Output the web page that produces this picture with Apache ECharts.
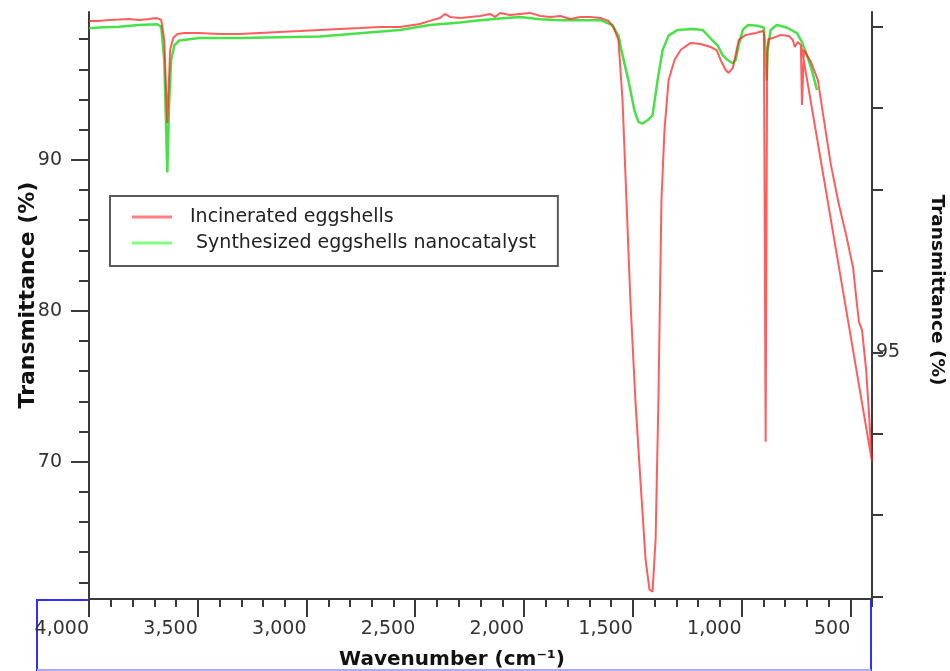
<!DOCTYPE html>
<html><head><meta charset="utf-8">
<script src="https://cdn.jsdelivr.net/npm/echarts@6/dist/echarts.min.js"></script>
<style>html,body{margin:0;padding:0;background:#fff}#c{width:950px;height:671px}</style>
</head><body><div id="c"></div>
<script>
// ---- data ----
const seriesNames = ['Incinerated eggshells', ' Synthesized eggshells nanocatalyst'];

const redWn = [4000,3954,3908,3862,3816,3770,3723,3687,3668,3654,3640,3627,3613,3594,3562,3493,3401,3309,3216,3124,3032,2940,2848,2755,2663,2571,2479,2433,2387,2363,2340,2294,2248,2202,2156,2133,2110,2064,2018,1972,1925,1879,1833,1787,1741,1695,1649,1612,1589,1566,1547,1529,1511,1488,1465,1441,1423,1409,1395,1382,1368,1354,1335,1308,1280,1234,1188,1142,1114,1096,1073,1059,1040,1027,1013,980,934,902,897,889,882,876,856,819,782,764,755,741,727,722,713,681,649,621,589,552,519,487,469,460,446,427,415,400,725];
const redT = [99.21,99.21,99.27,99.30,99.34,99.27,99.34,99.40,99.27,97.95,92.45,97.28,98.08,98.34,98.41,98.41,98.34,98.34,98.41,98.48,98.54,98.61,98.68,98.74,98.81,98.81,99.01,99.21,99.40,99.67,99.47,99.40,99.47,99.54,99.67,99.47,99.74,99.60,99.67,99.74,99.54,99.47,99.54,99.34,99.47,99.47,99.40,99.21,98.81,97.95,93.97,87.35,80.73,74.11,68.81,63.51,61.52,61.39,64.83,74.11,87.35,92.00,95.30,96.62,97.28,97.75,97.68,97.48,97.28,96.62,95.96,95.76,96.09,96.95,97.95,98.28,98.41,98.54,98.40,71.32,97.00,98.00,98.08,98.28,98.21,97.95,97.48,97.81,97.62,93.64,97.28,96.49,95.30,92.65,89.67,87.02,85.03,82.85,80.40,79.27,78.74,76.09,73.44,70.00,97.55];

const greenWn = [4000,3954,3862,3770,3687,3668,3654,3640,3631,3622,3608,3585,3493,3309,3124,2940,2755,2571,2433,2294,2202,2110,2018,1925,1833,1741,1649,1594,1566,1547,1520,1492,1474,1456,1432,1409,1386,1363,1335,1294,1225,1179,1133,1110,1087,1064,1040,1027,1013,994,971,925,898,889,884,880,866,838,792,745,722,699,676,653];
const greenT = [98.98,98.99,99.00,99.02,99.03,99.00,98.59,97.21,98.10,98.59,98.77,98.83,98.86,98.86,98.87,98.88,98.92,98.96,99.02,99.05,99.08,99.10,99.12,99.09,99.08,99.08,99.08,99.02,98.89,98.65,98.34,97.97,97.83,97.81,97.85,97.91,98.34,98.71,98.89,98.96,98.97,98.96,98.83,98.77,98.65,98.59,98.55,98.59,98.77,98.96,99.02,99.01,98.99,98.71,98.34,98.71,98.96,99.02,98.99,98.92,98.81,98.65,98.46,98.22];

const xLabelValues = [500,1000,1500,2000,2500,3000,3500,4000];
const leftLabelValues = [70,80,90];
const leftMinorValues = [62,64,66,68,70,72,74,76,78,80,82,84,86,88,90,92,94,96,98];
const rightTickValues = [92,93,94,95,96,97,98,99];
const rightLabelValues = [95];
const xTitle = 'Wavenumber (cm⁻¹)';
const yTitle = 'Transmittance (%)';

// ---- chart ----
const FONT = 'DejaVu Sans';
const AX = '#3a3a3a';
const redData = redWn.map((w,i)=>[w, redT[i]]);
const greenData = greenWn.map((w,i)=>[w, greenT[i]]);

const chart = echarts.init(document.getElementById('c'), null, {renderer:'canvas'});
chart.setOption({
  animation:false,
  backgroundColor:'#fff',
  grid:{left:89, right:78, top:12, bottom:72},
  legend:{
    left:110, top:196, orient:'vertical',
    data:[
      {name:seriesNames[0], itemStyle:{color:'#ff8080'}},
      {name:seriesNames[1], itemStyle:{color:'#80ff80'}}
    ],
    icon:'rect', itemWidth:40, itemHeight:3, itemGap:4,
    padding:[10,22,12,22],
    backgroundColor:'#fff', borderColor:'#5a5a5a', borderWidth:2,
    textStyle:{fontFamily:FONT, fontSize:19, lineHeight:22, color:'#222', padding:[0,0,0,13]}
  },
  xAxis:[
    {type:'value', inverse:true, min:400, max:4000, position:'bottom',
     axisLine:{onZero:false, lineStyle:{color:AX, width:2}},
     axisTick:{customValues:xLabelValues, length:18, lineStyle:{color:AX, width:2}},
     axisLabel:{customValues:xLabelValues, align:'right', margin:21, fontFamily:FONT, fontSize:19, color:'#333',
       formatter:v=>Number(v).toLocaleString('en-US')},
     splitLine:{show:false}},
    {type:'value', inverse:true, min:400, max:4000, interval:100, position:'bottom',
     axisLine:{show:false, onZero:false},
     axisTick:{length:8, lineStyle:{color:AX, width:2}},
     axisLabel:{show:false}, splitLine:{show:false}}
  ],
  yAxis:[
    {type:'value', min:60.9, max:99.8, position:'left',
     axisLine:{show:true, onZero:false, lineStyle:{color:AX, width:2}},
     axisTick:{customValues:leftMinorValues, length:10, lineStyle:{color:AX, width:2}},
     axisLabel:{customValues:leftLabelValues, margin:27, fontFamily:FONT, fontSize:19, color:'#333'},
     splitLine:{show:false}},
    {type:'value', min:60.9, max:99.8, position:'left',
     axisLine:{show:false},
     axisTick:{customValues:leftLabelValues, length:18, lineStyle:{color:AX, width:2}},
     axisLabel:{show:false}, splitLine:{show:false}},
    {type:'value', min:91.97, max:99.18, position:'right',
     axisLine:{show:true, onZero:false, lineStyle:{color:AX, width:2}},
     axisTick:{customValues:rightTickValues, length:11, lineStyle:{color:AX, width:2}},
     axisLabel:{customValues:rightLabelValues, margin:4, fontFamily:FONT, fontSize:19, color:'#333'},
     splitLine:{show:false}}
  ],
  series:[
    {name:seriesNames[1], type:'line', xAxisIndex:0, yAxisIndex:2, data:greenData,
     showSymbol:false, symbol:'none', color:'rgba(40,220,40,0.85)',
     lineStyle:{color:'rgba(40,220,40,0.85)', width:2.5}},
    {name:seriesNames[0], type:'line', xAxisIndex:0, yAxisIndex:0, data:redData,
     showSymbol:false, symbol:'none', color:'rgba(255,30,30,0.72)',
     lineStyle:{color:'rgba(255,30,30,0.72)', width:2}}
  ],
  graphic:[
    {type:'text', x:28, y:295, rotation:Math.PI/2,
     style:{text:yTitle, font:'bold 22px "DejaVu Sans"', fill:'#111', align:'center', verticalAlign:'middle'}},
    {type:'text', x:937, y:290, rotation:-Math.PI/2,
     style:{text:yTitle, font:'bold 18.5px "DejaVu Sans"', fill:'#111', align:'center', verticalAlign:'middle'}},
    {type:'text', x:452, y:660,
     style:{text:xTitle, font:'bold 20px "DejaVu Sans"', fill:'#111', align:'center', verticalAlign:'middle'}},
    {type:'line', shape:{x1:37, y1:600, x2:89, y2:600}, style:{stroke:'#3030ff', lineWidth:2}},
    {type:'line', shape:{x1:37, y1:599, x2:37, y2:671}, style:{stroke:'#3030ff', lineWidth:2}},
    {type:'line', shape:{x1:871, y1:599, x2:871, y2:671}, style:{stroke:'#3030ff', lineWidth:2}},
    {type:'line', shape:{x1:37, y1:670, x2:871, y2:670}, style:{stroke:'#aaaaff', lineWidth:2}}
  ]
});
</script></body></html>
